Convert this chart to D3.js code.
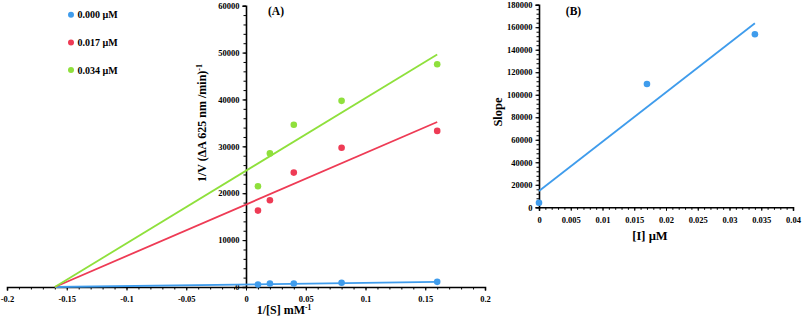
<!DOCTYPE html>
<html>
<head>
<meta charset="utf-8">
<script src="https://cdn.jsdelivr.net/npm/d3@7"></script>
<style>
  body { margin: 0; background: #fff; }
  svg { font-family: "Liberation Serif", "Times New Roman", serif; font-weight: bold; }
</style>
</head>
<body>
<svg width="803" height="318"></svg>
<script>
// данные панели (A): Лайнуивер-Берк
const invS = [0.01, 0.02, 0.04, 0.08, 0.16];
const concLabels = ["0.000 µM", "0.017 µM", "0.034 µM"];
const colors = ["#3f9cec", "#ee3b55", "#8fe03c"];
const v000 = [530, 740, 760, 900, 1100];
const v017 = [16300, 18500, 24400, 29700, 33300];
const v034 = [21500, 28500, 34600, 39700, 47500];
// линии аппроксимации (концы)
const fitX = [-0.16, 0.16];
const fit000 = [0, 1100];
const fit017 = [0, 35200];
const fit034 = [0, 49600];
const ticksXA = [-0.2, -0.15, -0.1, -0.05, 0, 0.05, 0.1, 0.15, 0.2];
const ticksYA = [0, 10000, 20000, 30000, 40000, 50000, 60000];

// данные панели (B): вторичный график
const inhib = [0, 0.017, 0.034];
const slopes = [4100, 109600, 153800];
const fitXB = [0, 0.034];
const fitYB = [14500, 163500];
const ticksXB = [0, 0.005, 0.01, 0.015, 0.02, 0.025, 0.03, 0.035, 0.04];
const ticksYB = [0, 20000, 40000, 60000, 80000, 100000, 120000, 140000, 160000, 180000];

const svg = d3.select("svg");
const fmt = d => String(d);
const styleText = g => g.selectAll("text").attr("font-size", 8.5)
  .attr("font-family", "Liberation Serif").attr("font-weight", "bold");

// ---------- панель A ----------
const xA = d3.scaleLinear().domain([-0.2, 0.2]).range([7, 485]);
const yA = d3.scaleLinear().domain([0, 60000]).range([287, 5.7]);

const gA = svg.append("g");

// малые деления
gA.append("g").attr("transform", `translate(0,${yA(0)})`)
  .call(d3.axisBottom(xA).tickValues(d3.range(-20, 21).map(d => d / 100)).tickSize(2.5).tickFormat(""))
  .call(g => g.select(".domain").remove());
gA.append("g").attr("transform", `translate(${xA(0)},0)`)
  .call(d3.axisLeft(yA).tickValues(d3.range(0, 60001, 2000)).tickSize(2.5).tickFormat(""))
  .call(g => g.select(".domain").remove());

gA.append("g").attr("transform", `translate(0,${yA(0)})`)
  .call(d3.axisBottom(xA).tickValues(ticksXA).tickSize(3.5).tickPadding(5).tickFormat(fmt))
  .call(g => g.select(".domain").attr("stroke-width", 1.6))
  .call(styleText);
gA.append("g").attr("transform", `translate(${xA(0)},0)`)
  .call(d3.axisLeft(yA).tickValues(ticksYA).tickSize(3.5).tickPadding(3).tickFormat(fmt))
  .call(g => g.select(".domain").attr("stroke-width", 1.6))
  .call(styleText);

const line = d3.line().x(d => xA(d[0])).y(d => yA(d[1]));
[fit000, fit017, fit034].forEach((f, i) => {
  gA.append("path")
    .attr("d", line(fitX.map((x, j) => [x, f[j]])))
    .attr("fill", "none").attr("stroke", colors[i]).attr("stroke-width", 1.8);
});
[v000, v017, v034].forEach((vals, i) => {
  gA.selectAll(null).data(vals).enter().append("circle")
    .attr("cx", (d, j) => xA(invS[j])).attr("cy", d => yA(d))
    .attr("r", 3.3).attr("fill", colors[i]);
});

// легенда
concLabels.forEach((lab, i) => {
  const y = 14.7 + i * 27.7;
  svg.append("circle").attr("cx", 71).attr("cy", y).attr("r", 3).attr("fill", colors[i]);
  svg.append("text").attr("x", 77.5).attr("y", y + 3.5).attr("font-size", 10).text(lab);
});

svg.append("text").attr("x", 276).attr("y", 14.5).attr("font-size", 11.5)
  .attr("text-anchor", "middle").text("(A)");

const xt = svg.append("text").attr("x", 284).attr("y", 314).attr("font-size", 12).attr("text-anchor", "middle");
xt.append("tspan").text("1/[S] mM");
xt.append("tspan").attr("dy", -4).attr("font-size", 7.5).text("-1");

const yt = svg.append("text").attr("transform", "translate(206,123) rotate(-90)")
  .attr("font-size", 12).attr("text-anchor", "middle");
yt.append("tspan").text("1/V (ΔA 625 nm /min)");
yt.append("tspan").attr("dy", -4.5).attr("font-size", 8).text("-1");

// ---------- панель B ----------
const xB = d3.scaleLinear().domain([0, 0.04]).range([539, 793]);
const yB = d3.scaleLinear().domain([0, 180000]).range([207.3, 4.7]);
const gB = svg.append("g");

gB.append("g").attr("transform", `translate(0,${yB(0)})`)
  .call(d3.axisBottom(xB).tickValues(d3.range(0, 41).map(d => d / 1000)).tickSize(2.5).tickFormat(""))
  .call(g => g.select(".domain").remove());
gB.append("g").attr("transform", `translate(${xB(0)},0)`)
  .call(d3.axisLeft(yB).tickValues(d3.range(0, 180001, 4000)).tickSize(2.5).tickFormat(""))
  .call(g => g.select(".domain").remove());

gB.append("g").attr("transform", `translate(0,${yB(0)})`)
  .call(d3.axisBottom(xB).tickValues(ticksXB).tickSize(3.5).tickPadding(6).tickFormat(fmt))
  .call(g => g.select(".domain").attr("stroke-width", 1.6))
  .call(styleText);
gB.append("g").attr("transform", `translate(${xB(0)},0)`)
  .call(d3.axisLeft(yB).tickValues(ticksYB).tickSize(3.5).tickPadding(3).tickFormat(fmt))
  .call(g => g.select(".domain").attr("stroke-width", 1.6))
  .call(styleText);

const lineB = d3.line().x(d => xB(d[0])).y(d => yB(d[1]));
gB.append("path")
  .attr("d", lineB(fitXB.map((x, j) => [x, fitYB[j]])))
  .attr("fill", "none").attr("stroke", colors[0]).attr("stroke-width", 1.8);
gB.selectAll(null).data(slopes).enter().append("circle")
  .attr("cx", (d, j) => xB(inhib[j])).attr("cy", d => yB(d))
  .attr("r", 3.3).attr("fill", colors[0]);

svg.append("text").attr("x", 573.5).attr("y", 14.5).attr("font-size", 11.5)
  .attr("text-anchor", "middle").text("(B)");
svg.append("text").attr("x", 650).attr("y", 240).attr("font-size", 12.5)
  .attr("text-anchor", "middle").text("[I] µM");
svg.append("text").attr("transform", "translate(502,112) rotate(-90)")
  .attr("font-size", 12.5).attr("text-anchor", "middle").text("Slope");
</script>
</body>
</html>
